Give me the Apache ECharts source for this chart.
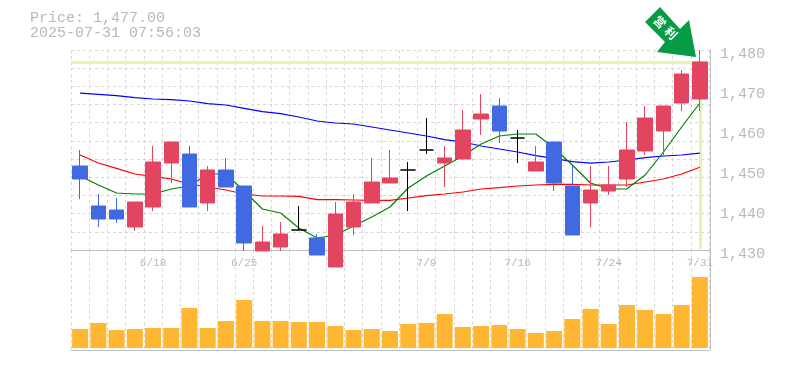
<!DOCTYPE html>
<html>
<head>
<meta charset="utf-8">
<script src="https://cdn.jsdelivr.net/npm/echarts@6/dist/echarts.min.js"></script>
<style>
html, body { margin: 0; padding: 0; background: #fff; }
#main { width: 785px; height: 370px; }
</style>
</head>
<body>
<div id="main"></div>
<script>
const days = ['6/12','6/13','6/16','6/17','6/18','6/19','6/20','6/23','6/24','6/25','6/26','6/27','6/30','7/1','7/2','7/3','7/4','7/7','7/8','7/9','7/10','7/11','7/14','7/15','7/16','7/17','7/18','7/22','7/23','7/24','7/25','7/28','7/29','7/30','7/31'];
// open, close, low, high
const candles = [
    [1451, 1447.75, 1442.75, 1455], [1441, 1437.75, 1435.75, 1444], [1440, 1437.75, 1436.75, 1443],
    [1435.75, 1442, 1434.75, 1442], [1440.75, 1452, 1439.75, 1456], [1451.75, 1457, 1446.75, 1457],
    [1454, 1440.75, 1440.75, 1456], [1441.75, 1450, 1439.75, 1451], [1450, 1445.75, 1445.75, 1453],
    [1446, 1431.75, 1429.75, 1446], [1429.75, 1432, 1429.75, 1436], [1430.75, 1434, 1429.75, 1437],
    [1435, 1435, 1435, 1441], [1433, 1428.75, 1428.75, 1434], [1425.75, 1439, 1425.75, 1442],
    [1435.75, 1442, 1433.75, 1444], [1441.75, 1447, 1441.75, 1453], [1446.75, 1448, 1446.75, 1455],
    [1450, 1450, 1439.75, 1452], [1455, 1455, 1454, 1463], [1451.75, 1453, 1445.75, 1456],
    [1452.75, 1460, 1452.75, 1465], [1462.75, 1464, 1458.75, 1469], [1466, 1459.75, 1456.75, 1468],
    [1458, 1458, 1451.75, 1460], [1449.75, 1452, 1449.75, 1456], [1457, 1446.75, 1444.75, 1457],
    [1446, 1433.75, 1433.75, 1451], [1441.75, 1445, 1435.75, 1451], [1444.75, 1446.25, 1443.75, 1451],
    [1447.75, 1455, 1445.75, 1462], [1454.75, 1463, 1453.75, 1466], [1459.75, 1466, 1453.75, 1466],
    [1466.75, 1474, 1464.75, 1475], [1467.75, 1477, 1464.75, 1480]
];
const maShort = [1448.5, 1446.25, 1444.25, 1444, 1444, 1445.25, 1446, 1449, 1449, 1444.75, 1440.25, 1439.25, 1435.5, 1433, 1433.75, 1436, 1438.25, 1440.75, 1445.5, 1448.5, 1451, 1453.5, 1456.5, 1458.5, 1459, 1459, 1455.5, 1451.25, 1446.75, 1445.25, 1445.3, 1448.75, 1454.5, 1460.75, 1466.75];
const maMid = [1453.75, 1451.75, 1450.4, 1449, 1448.4, 1447.75, 1446.5, 1445.75, 1445, 1444, 1443.5, 1443.5, 1443.4, 1442.6, 1442.6, 1442.5, 1442.4, 1442.4, 1443, 1443.6, 1444, 1444.5, 1445.25, 1445.6, 1446, 1446.25, 1446.4, 1446.4, 1446.25, 1446.25, 1446.25, 1447, 1447.75, 1449, 1450.7];
const maLong = [1469.2, 1468.9, 1468.6, 1468.1, 1467.75, 1467.6, 1467.25, 1466.6, 1466.25, 1465.4, 1464.6, 1464.1, 1463.25, 1462.25, 1461.75, 1461.5, 1460.75, 1460, 1459.25, 1458.5, 1457.6, 1457, 1456, 1455.25, 1454.5, 1453.6, 1452.9, 1452.1, 1451.7, 1452, 1452.5, 1453.1, 1453.5, 1453.75, 1454.2];
const volumes = [19, 25, 18, 19, 20, 20, 40, 20, 27, 48, 27, 27, 26, 26, 22, 18, 19, 17, 24, 25, 34, 21, 22, 23, 19, 15, 17, 29, 39, 24, 43, 38, 34, 43, 71];
const lastPrice = 1477;

const monoFont = '"Liberation Mono", monospace';
const textGray = '#b8b8b8';
const axisGray = '#c0c0c0';
const gridStyle = { color: '#d8d8d8', type: [3, 3], width: 1 };

const chart = echarts.init(document.getElementById('main'), null, { renderer: 'canvas' });

function lineSeries(data, color) {
    return {
        type: 'line', data: data, xAxisIndex: 0, yAxisIndex: 0,
        symbol: 'none', animation: false, silent: true, z: 2,
        lineStyle: { color: color, width: 1.2 }
    };
}

chart.setOption({
    animation: false,
    title: {
        text: 'Price: 1,477.00\n2025-07-31 07:56:03',
        left: 30, top: 11, padding: 0,
        textStyle: { fontFamily: monoFont, fontSize: 15, lineHeight: 15, fontWeight: 'normal', color: textGray }
    },
    grid: [
        { left: 71, top: 50, width: 638, height: 200 },
        { left: 71, top: 250, width: 638, height: 100 }
    ],
    xAxis: [
        {
            type: 'category', gridIndex: 0, data: days,
            axisLine: { lineStyle: { color: axisGray, width: 1 } },
            axisTick: { show: false },
            splitLine: { show: true, interval: 0, lineStyle: gridStyle },
            axisLabel: {
                interval: function (i) { return (i + 1) % 5 === 0; },
                showMaxLabel: true,
                fontFamily: monoFont, fontSize: 11, color: textGray, margin: 8
            }
        },
        {
            type: 'category', gridIndex: 1, data: days,
            axisLine: { onZero: false, lineStyle: { color: axisGray, width: 1 } },
            axisTick: { show: false },
            axisLabel: { show: false },
            splitLine: { show: true, interval: 0, lineStyle: gridStyle }
        }
    ],
    yAxis: [
        {
            type: 'value', gridIndex: 0, position: 'right', offset: 1, min: 1430, max: 1480, interval: 10,
            axisLine: { show: true, lineStyle: { color: axisGray, width: 1 } },
            axisTick: { show: false },
            splitLine: { show: false },
            axisLabel: {
                margin: 10, fontFamily: monoFont, fontSize: 15, color: textGray,
                verticalAlign: 'top', lineHeight: 8,
                formatter: function (v) { return v.toLocaleString('en-US'); }
            }
        },
        // only carries the dashed horizontal grid, it does not follow the price ticks
        {
            type: 'value', gridIndex: 0, position: 'left', min: 0, max: 11, interval: 1,
            axisLine: { show: false }, axisTick: { show: false }, axisLabel: { show: false },
            splitLine: { show: true, lineStyle: gridStyle }
        },
        {
            type: 'value', gridIndex: 1, position: 'right', offset: 1, min: -2, max: 98,
            axisLine: { show: true, onZero: false, lineStyle: { color: axisGray, width: 1 } },
            axisTick: { show: false }, axisLabel: { show: false }, splitLine: { show: false }
        }
    ],
    series: [
        {
            type: 'line', data: [], xAxisIndex: 0, yAxisIndex: 0, symbol: 'none', silent: true, z: 1,
            markLine: {
                silent: true, symbol: 'none', animation: false, z: 1,
                label: { show: false },
                lineStyle: { color: '#e3f5a8', width: 3, type: 'solid' },
                data: [
                    { yAxis: lastPrice },
                    [{ coord: [days.length - 1, lastPrice] }, { coord: [days.length - 1, 1430.25] }]
                ]
            }
        },
        lineSeries(maLong, '#0000ff'),
        lineSeries(maMid, '#ff0000'),
        lineSeries(maShort, '#008000'),
        {
            type: 'candlestick', data: candles, xAxisIndex: 0, yAxisIndex: 0,
            barWidth: 15, clip: false, z: 3, silent: true,
            itemStyle: {
                color: '#e34460', color0: '#4169e1',
                borderColor: '#e34460', borderColor0: '#4169e1',
                borderColorDoji: '#000000', borderWidth: 1
            }
        },
        {
            type: 'bar', data: volumes, xAxisIndex: 1, yAxisIndex: 2,
            barWidth: 16, silent: true,
            itemStyle: { color: '#ffb733' }
        }
    ],
    graphic: [
        {
            type: 'polygon', z: 10, silent: true,
            shape: { points: [[660, 7], [645, 22], [665, 42], [657, 52], [696, 57], [689, 20], [680, 29]] },
            style: { fill: '#069b45' }
        },
        {
            type: 'text', z: 11, silent: true, x: 660, y: 22, rotation: -Math.PI / 4,
            style: { text: '営', fill: '#fff', font: 'bold 12px "Noto Sans CJK JP"', align: 'center', verticalAlign: 'middle' }
        },
        {
            type: 'text', z: 11, silent: true, x: 671, y: 33, rotation: -Math.PI / 4,
            style: { text: '利', fill: '#fff', font: 'bold 12px "Noto Sans CJK JP"', align: 'center', verticalAlign: 'middle' }
        }
    ]
});
</script>
</body>
</html>
